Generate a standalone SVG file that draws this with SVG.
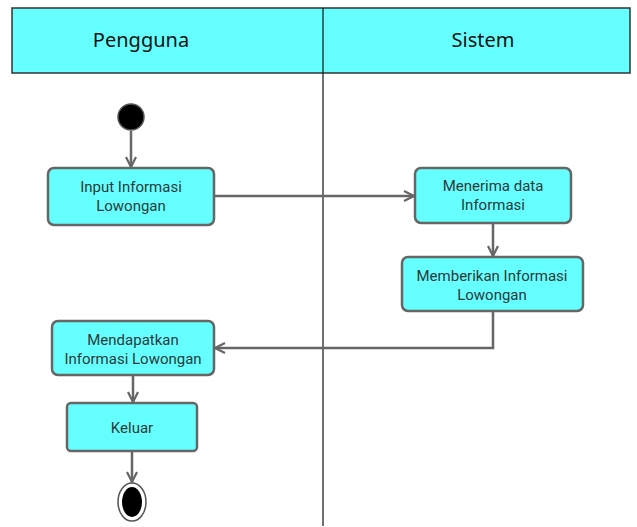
<svg xmlns="http://www.w3.org/2000/svg" width="637" height="527" viewBox="0 0 637 527">
<style>
.lane{fill:#66FFFF;stroke:#333;stroke-width:1.5}
.head{font-family:"Comic Sans MS","Noto Sans",sans-serif;font-size:20px;fill:#111;text-anchor:middle}
.act{fill:#66FFFF;stroke:#666;stroke-width:2.5}
.lbl{font-family:Roboto,"Liberation Sans",sans-serif;font-size:15px;fill:#2a3a3a;text-anchor:middle}
.con{fill:none;stroke:#666;stroke-width:2.5}
</style>
<defs>
<marker id="arr" viewBox="0 0 12 12" refX="11" refY="6" markerWidth="12" markerHeight="12" markerUnits="userSpaceOnUse" orient="auto">
<path d="M1,1 L11,6 L1,11" fill="none" stroke="#666" stroke-width="2.2"/>
</marker>
</defs>
<g id="swimlanes">
<rect class="lane" x="12" y="8" width="618" height="65"/>
<line x1="323" y1="8" x2="323" y2="526" stroke="#111" stroke-width="1.2"/>
<text class="head" x="141" y="47">Pengguna</text>
<text class="head" x="483" y="47">Sistem</text>
</g>
<g id="start">
<circle cx="131" cy="117" r="13" fill="#000" stroke="#555" stroke-width="1.5"/>
</g>
<g id="input">
<rect class="act" x="48" y="168" width="166" height="57" rx="6"/>
<text class="lbl" x="131" y="192">Input Informasi</text>
<text class="lbl" x="131" y="211">Lowongan</text>
</g>
<g id="menerima">
<rect class="act" x="415" y="168" width="156" height="55" rx="6"/>
<text class="lbl" x="493" y="191">Menerima data</text>
<text class="lbl" x="493" y="210">Informasi</text>
</g>
<g id="memberikan">
<rect class="act" x="402" y="257" width="181" height="54" rx="6"/>
<text class="lbl" x="492" y="281">Memberikan Informasi</text>
<text class="lbl" x="492" y="300">Lowongan</text>
</g>
<g id="mendapatkan">
<rect class="act" x="52" y="321" width="162" height="54" rx="6"/>
<text class="lbl" x="133" y="345">Mendapatkan</text>
<text class="lbl" x="133" y="364">Informasi Lowongan</text>
</g>
<g id="keluar">
<rect class="act" x="67" y="403" width="130" height="48" rx="4"/>
<text class="lbl" x="132" y="433">Keluar</text>
</g>
<g id="end">
<ellipse cx="132" cy="502" rx="14" ry="19" fill="#fff" stroke="#555" stroke-width="1.5"/>
<ellipse cx="132" cy="502" rx="10" ry="15" fill="#000"/>
</g>
<g id="connectors">
<path class="con" d="M131,131 L131,167" marker-end="url(#arr)"/>
<path class="con" d="M214,196 L414,196" marker-end="url(#arr)"/>
<path class="con" d="M493,223 L493,256" marker-end="url(#arr)"/>
<path class="con" d="M493,311 L493,348 L215,348" marker-end="url(#arr)"/>
<path class="con" d="M133,375 L133,402" marker-end="url(#arr)"/>
<path class="con" d="M132,451 L132,482" marker-end="url(#arr)"/>
</g>
</svg>
